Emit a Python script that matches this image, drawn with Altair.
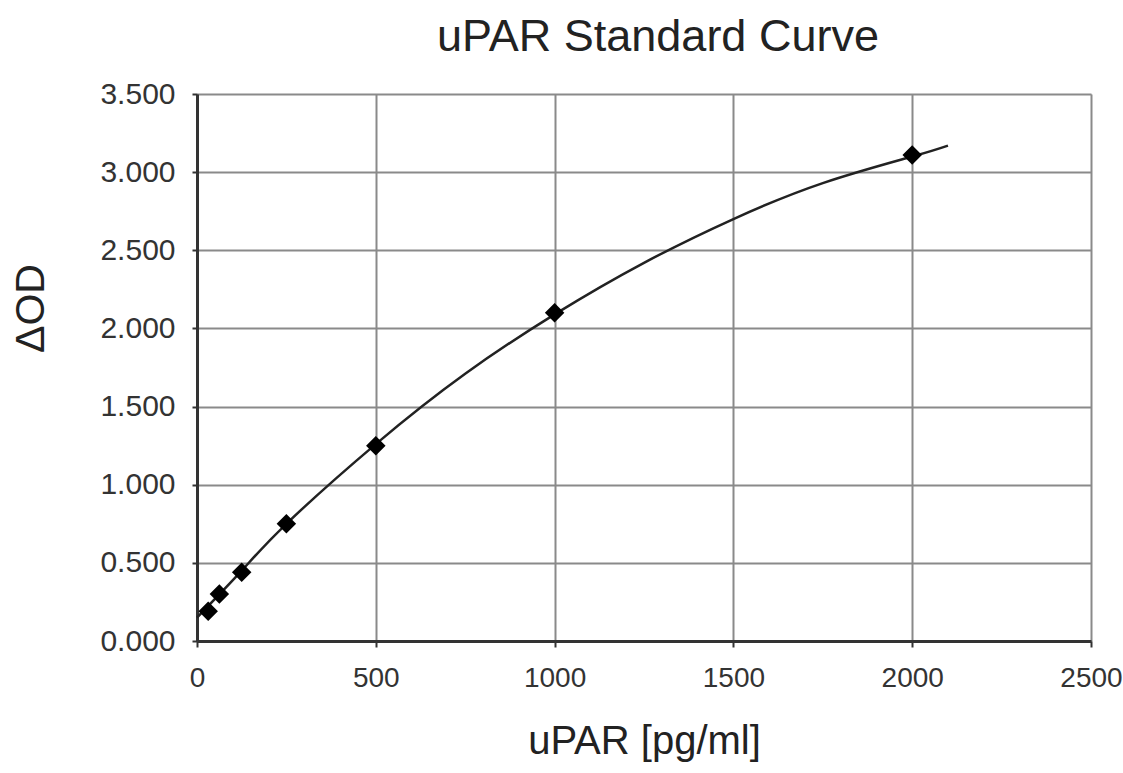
import altair as alt
import pandas as pd

# Standard points (concentration pg/ml, ΔOD)
conc = [31.25, 62.5, 125, 250, 500, 1000, 2000]
od = [0.19, 0.30, 0.44, 0.75, 1.25, 2.10, 3.11]

# Fitted curve
curve_x = [0, 125, 250, 500, 750, 1000, 1250, 1500, 1750, 2000, 2100]
curve_y = [0.15, 0.45, 0.75, 1.26, 1.71, 2.09, 2.42, 2.70, 2.93, 3.10, 3.17]

x_ticks = [0, 500, 1000, 1500, 2000, 2500]
y_ticks = [0.0, 0.5, 1.0, 1.5, 2.0, 2.5, 3.0, 3.5]

pts = pd.DataFrame({"x": conc, "y": od})
crv = pd.DataFrame({"x": curve_x, "y": curve_y})

FONT = "Liberation Sans"

xscale = alt.Scale(domain=[0, 2500], nice=False, zero=False)
yscale = alt.Scale(domain=[0, 3.5], nice=False, zero=False)

xaxis = alt.Axis(
    title="uPAR [pg/ml]", values=x_ticks, format="d",
    grid=True, gridColor="#8a8a8a", gridWidth=2,
    domainColor="#333333", domainWidth=3,
    tickColor="#333333", tickSize=6, tickWidth=2,
    labelFont=FONT, labelFontSize=28, labelColor="#333333", labelPadding=17,
    titleFont=FONT, titleFontSize=40, titleFontWeight="normal", titleColor="#222222",
    titlePadding=29, labelFlush=False,
)
yaxis = alt.Axis(
    title="ΔOD", values=y_ticks, format=".3f",
    grid=True, gridColor="#8a8a8a", gridWidth=2,
    domainColor="#333333", domainWidth=3,
    tickColor="#333333", tickSize=5, tickWidth=2,
    labelFont=FONT, labelFontSize=30, labelColor="#333333", labelPadding=17,
    titleFont=FONT, titleFontSize=41, titleFontWeight="normal", titleColor="#222222",
    titleX=-154, titleY=214, titleAlign="center", titleBaseline="alphabetic",
    titleAngle=270, labelFlush=False,
)

line = alt.Chart(crv).mark_line(color="#222222", strokeWidth=2.5, interpolate="natural").encode(
    x=alt.X("x:Q", scale=xscale, axis=xaxis),
    y=alt.Y("y:Q", scale=yscale, axis=yaxis),
)
points = alt.Chart(pts).mark_point(shape="diamond", filled=True, color="#000000", size=380, opacity=1).encode(
    x=alt.X("x:Q", scale=xscale),
    y=alt.Y("y:Q", scale=yscale),
)

chart = alt.layer(line, points).properties(
    width=894, height=547,
    padding={"left": 197, "top": 94, "right": 32, "bottom": 132},
    autosize=alt.AutoSizeParams(type="none"),
    title=alt.TitleParams("uPAR Standard Curve", font=FONT, fontSize=45, fontWeight="normal",
                          color="#222222", anchor="middle", offset=19, dx=14),
).configure_view(stroke=None).configure(background="white")

chart.save("out.html", embed_options={"renderer": "svg", "actions": False})
